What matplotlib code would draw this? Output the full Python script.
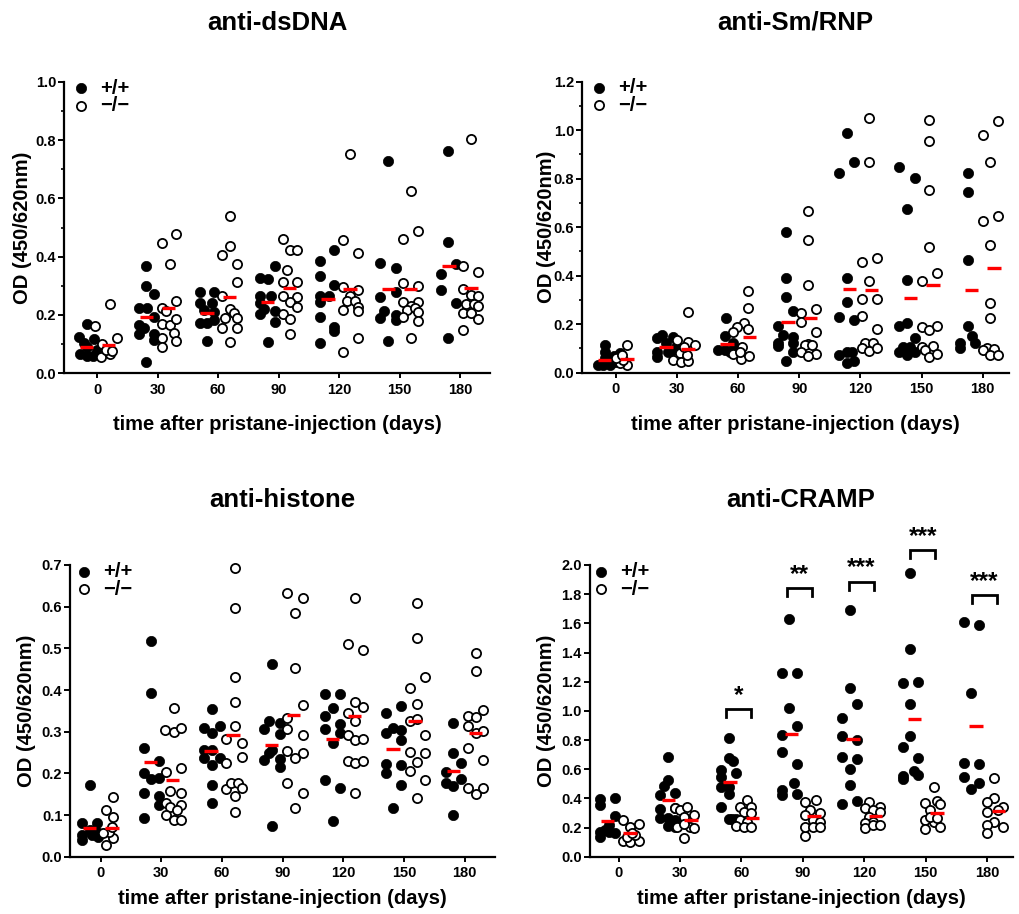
import matplotlib
matplotlib.use('Agg')
import matplotlib.pyplot as plt
from matplotlib.lines import Line2D
from matplotlib.ticker import MultipleLocator, FormatStrFormatter

# ---------------- DATA ----------------
days = [0, 30, 60, 90, 120, 150, 180]
xtick_labels = ['0', '30', '60', '90', '120', '150', '180']

# anti-dsDNA: (x in days incl. jitter, OD)
dsdna_wt = [
    [(-9.1, .126), (-5.3, .169), (-8.6, .065), (-5.3, .059), (-2, .059), (-1.7, .117), (-5, .089), (-6.6, .103), (0, .08)],
    [(24.4, .04), (24.4, .368), (24.4, .299), (28.4, .271), (20.6, .225), (24.8, .225), (20.6, .166), (23.1, .154), (20.6, .134), (28.4, .134), (28.4, .114), (28.4, .194)],
    [(50.9, .28), (57.8, .28), (50.9, .24), (57, .24), (52.8, .217), (50.9, .174), (54.5, .174), (57.8, .211), (54.5, .112), (57.8, .183)],
    [(88.3, .369), (80.6, .326), (84.5, .322), (80.6, .266), (86.2, .266), (80.6, .24), (82.6, .219), (80.6, .202), (88.3, .215), (88.3, .175), (84.5, .109)],
    [(110.6, .386), (117.5, .423), (110.6, .334), (117.5, .303), (110.6, .266), (114.8, .266), (110.6, .243), (110.6, .192), (117.5, .16), (117.5, .145), (110.6, .103)],
    [(144.2, .729), (140.4, .377), (148.2, .36), (140.4, .263), (148.2, .278), (142.3, .215), (140.4, .189), (148.2, .2), (148.2, .183), (144.2, .111)],
    [(174.2, .762), (174.2, .449), (170.5, .341), (178, .374), (170.5, .286), (178, .242), (174.2, .12)],
]
dsdna_ko = [
    [(-1.2, .163), (6.1, .237), (9.6, .122), (2.1, .055), (6.3, .065), (2.5, .1), (4.1, .08), (7.5, .075)],
    [(32.2, .448), (36, .374), (39.3, .477), (39.3, .248), (32.2, .225), (33.9, .214), (32.2, .168), (36, .166), (39.3, .185), (38, .137), (32.2, .12), (32.2, .091), (39.3, .111)],
    [(65.7, .541), (65.7, .438), (62, .406), (69.4, .374), (69.4, .314), (62, .266), (65.7, .219), (67.7, .206), (62, .154), (65.7, .109), (69.4, .189), (69.4, .154), (63.6, .189)],
    [(92, .461), (95.8, .423), (99.1, .423), (94.1, .354), (92, .314), (99.1, .314), (92, .266), (99.1, .263), (95.8, .243), (92, .202), (99.1, .226), (95.8, .185), (95.8, .135)],
    [(125.5, .751), (121.9, .457), (129.3, .411), (121.9, .297), (129.3, .286), (125.5, .265), (123.8, .248), (128, .248), (121.9, .217), (129.3, .229), (129.3, .214), (129.3, .12), (121.9, .074)],
    [(155.7, .625), (151.9, .461), (159, .488), (151.9, .309), (159, .299), (151.9, .246), (159, .246), (155.7, .231), (153.6, .217), (157.7, .223), (159, .211), (151.9, .192), (159, .181), (155.7, .12)],
    [(185.4, .802), (181.5, .369), (188.9, .349), (181.5, .289), (185.4, .269), (188.9, .266), (183.2, .237), (187, .237), (181.5, .206), (185.4, .206), (188.9, .231), (188.9, .185), (181.5, .149)],
]
dsdna_wt_mean = [.091, .193, .208, .245, .256, .289, .367]
dsdna_ko_mean = [.097, .225, .261, .294, .289, .289, .291]

# anti-Sm/RNP
smrnp_wt = [
    [(-8.7, .032), (-5.4, .114), (-5.4, .087), (-5.4, .059), (-2.9, .032), (-6.2, .032), (-0.5, .045), (2, .08), (-1, .07)],
    [(22.4, .155), (20, .142), (27.8, .148), (20, .087), (24.5, .121), (28.1, .093), (20, .066), (29.8, .114), (25.7, .087)],
    [(54, .224), (53.5, .153), (50.2, .093), (53.5, .093), (58.4, .093), (57.6, .121), (56, .087)],
    [(83.5, .581), (83.5, .389), (83.5, .313), (87.1, .256), (79.7, .194), (81.8, .155), (87.1, .148), (87.1, .121), (79.7, .121), (79.7, .11), (87.1, .087), (83.5, .048)],
    [(113.2, .987), (116.8, .87), (109.6, .822), (113.2, .389), (113.2, .29), (116.8, .217), (109.6, .231), (109.6, .073), (113.2, .084), (115.9, .084), (116.8, .049), (113.2, .038)],
    [(139.1, .847), (146.5, .804), (142.7, .674), (142.7, .382), (139.1, .194), (142.7, .203), (146.5, .144), (139.1, .087), (141.1, .107), (144.4, .107), (142.7, .073), (146.5, .087)],
    [(172.6, .825), (172.6, .746), (172.6, .465), (172.6, .194), (174.6, .151), (176.2, .121), (168.9, .121), (168.9, .103)],
]
smrnp_ko = [
    [(5.6, .114), (5.6, .032), (2, .038), (3.6, .052), (0.3, .059), (2.8, .073)],
    [(35.5, .252), (35.5, .128), (38.8, .114), (29.8, .135), (31.4, .08), (28.1, .052), (32.2, .045), (35.5, .049), (34.7, .073), (33.4, .107)],
    [(65, .337), (65, .265), (62.8, .203), (59.2, .19), (65, .179), (57.6, .169), (61.7, .107), (57.6, .077), (61.4, .056), (65.3, .069), (60.9, .087)],
    [(94.4, .667), (94.4, .547), (94.4, .362), (98.2, .263), (90.8, .245), (90.8, .208), (98.2, .166), (94.4, .118), (92.8, .114), (96.1, .114), (90.8, .087), (98.2, .076), (94.4, .069)],
    [(124.4, 1.052), (124.4, .867), (120.6, .458), (128, .474), (124.4, .379), (120.6, .304), (128, .304), (120.6, .235), (128, .18), (122.2, .124), (126.3, .124), (120.6, .1), (124.4, .089), (128, .1)],
    [(153.8, 1.042), (153.8, .955), (153.8, .753), (153.8, .52), (157.4, .41), (150.1, .379), (150.1, .19), (153.8, .176), (157.4, .194), (150.1, .107), (155.5, .11), (151.7, .093), (153.8, .063), (157.4, .077)],
    [(187.4, 1.038), (180, .98), (183.6, .87), (187.4, .646), (180, .627), (183.6, .526), (183.6, .289), (183.6, .224), (182.1, .1), (185.7, .096), (180, .093), (183.6, .073), (187.4, .073)],
]
smrnp_wt_mean = [.053, .107, .118, .21, .346, .309, .341]
smrnp_ko_mean = [.055, .099, .146, .224, .343, .362, .433]

# anti-histone
histone_wt = [
    [(-5.3, .172), (-9.1, .08), (-9.1, .04), (-9.1, .052), (-5.3, .064), (-2, .08), (-2, .06), (-4.5, .052), (-1.2, .048)],
    [(24.8, .518), (24.8, .392), (21.2, .262), (28.6, .23), (21.2, .2), (24.8, .186), (28.6, .19), (21.2, .152), (28.6, .146), (28.6, .124), (21.2, .092)],
    [(55.1, .354), (51, .31), (58.9, .314), (55.1, .298), (51, .256), (55.1, .256), (51, .238), (58.9, .238), (55.1, .22), (55.1, .172), (55.1, .128)],
    [(84.9, .462), (80.7, .306), (83.2, .326), (88.6, .32), (88.6, .294), (80.7, .232), (83.2, .248), (84.9, .256), (88.6, .234), (88.6, .216), (84.9, .074)],
    [(110.9, .39), (118.5, .39), (114.7, .358), (110.9, .338), (118.5, .318), (110.9, .306), (118.5, .298), (114.7, .274), (110.9, .184), (118.5, .164), (114.7, .086)],
    [(148.3, .362), (141, .346), (144.6, .31), (141, .298), (148.3, .304), (148.3, .28), (141, .222), (148.3, .22), (141, .202), (148.3, .172), (144.6, .118)],
    [(174.3, .32), (174.3, .248), (178, .226), (170.8, .204), (170.8, .178), (178, .186), (174.3, .17), (174.3, .1)],
]
histone_ko = [
    [(6.3, .144), (2.6, .112), (6.3, .096), (2.6, .028), (6.3, .046), (4.3, .06), (1.3, .056), (5.5, .072)],
    [(36.1, .358), (31.9, .304), (36.1, .3), (39.9, .31), (32.4, .204), (39.9, .214), (34.4, .158), (39.9, .154), (32.4, .13), (39.9, .124), (34.4, .12), (37.7, .112), (32.4, .1), (36.1, .088), (39.9, .088)],
    [(66.2, .694), (66.2, .598), (66.2, .432), (66.2, .372), (66.2, .314), (62.2, .282), (69.7, .274), (69.7, .24), (62.2, .226), (62.2, .162), (64.2, .178), (67.9, .178), (69.7, .164), (66.2, .146), (66.2, .108)],
    [(92.3, .634), (99.8, .622), (96.1, .584), (96.1, .454), (99.8, .364), (92.3, .334), (92.3, .306), (99.8, .292), (92.3, .254), (99.8, .25), (96.1, .236), (92.3, .178), (99.8, .152), (96.1, .116)],
    [(125.9, .62), (122.1, .51), (129.5, .496), (125.9, .372), (129.5, .36), (122.1, .346), (125.9, .326), (122.1, .292), (125.9, .28), (129.5, .282), (122.1, .23), (125.9, .224), (129.5, .23), (125.9, .154)],
    [(156.4, .608), (156.4, .524), (160.3, .432), (152.8, .406), (156.4, .366), (152.8, .326), (156.4, .33), (160.3, .292), (152.8, .252), (160.3, .248), (156.4, .228), (152.8, .206), (160.3, .184), (156.4, .14)],
    [(185.4, .49), (185.4, .446), (189.2, .352), (181.7, .338), (185.4, .336), (181.7, .314), (185.4, .296), (189.2, .302), (181.7, .262), (189.2, .232), (181.7, .164), (189.2, .164), (185.4, .15)],
]
histone_wt_mean = [.069, .228, .253, .269, .283, .258, .205]
histone_ko_mean = [.068, .184, .292, .341, .338, .325, .297]

# anti-CRAMP
cramp_wt = [
    [(-9, .393), (-9, .354), (-1.6, .4), (-1.6, .281), (-9, .171), (-9, .137), (-4.9, .217), (-4.9, .171), (-1.6, .16), (-6.5, .183)],
    [(24.1, .686), (24.1, .526), (22, .487), (20.4, .423), (27.4, .434), (20.4, .325), (24.1, .263), (27.4, .331), (20.4, .263), (24.1, .21), (27.4, .251), (27.4, .206)],
    [(53.8, .816), (53.8, .674), (55.9, .656), (50.2, .594), (57.5, .571), (50.2, .549), (53.8, .48), (50.2, .48), (53.8, .43), (50.2, .338), (53.8, .256), (57.5, .256), (55.4, .256)],
    [(83.4, 1.63), (79.8, 1.257), (87.2, 1.257), (83.4, 1.017), (87.2, .896), (79.8, .834), (79.8, .715), (87.2, .635), (85.5, .503), (79.8, .457), (79.8, .423), (87.2, .43)],
    [(113, 1.691), (113, 1.154), (116.5, 1.047), (109.2, .949), (109.2, .827), (116.5, .8), (109.2, .686), (116.5, .667), (113, .599), (113, .491), (116.5, .382), (109.2, .361)],
    [(142.2, 1.943), (142.2, 1.422), (138.8, 1.189), (146.3, 1.195), (142.2, 1.045), (142.2, .827), (138.8, .754), (146.3, .679), (144.2, .59), (138.8, .553), (138.8, .53), (146.3, .56)],
    [(168.6, 1.611), (176, 1.589), (172.2, 1.12), (168.6, .64), (176, .633), (168.6, .549), (176, .507), (172.2, .464)],
]
cramp_ko = [
    [(2.4, .251), (9.8, .222), (5.7, .206), (2.4, .11), (5.7, .103), (9.8, .11), (4.1, .137), (8.1, .149), (6.5, .16)],
    [(31.8, .126), (27.7, .331), (30.1, .32), (33.4, .338), (36.6, .286), (31.8, .274), (28.5, .206), (35, .206), (31.8, .224), (36.6, .194)],
    [(62.7, .389), (59.1, .343), (64.7, .343), (61.1, .309), (64.7, .297), (59.1, .251), (62.7, .24), (57.5, .21), (61.1, .206), (64.7, .206)],
    [(91.2, .377), (96.4, .389), (91.2, .142), (93.7, .32), (98.5, .302), (91.2, .286), (95, .251), (98.5, .24), (91.2, .206), (95, .206), (98.5, .201)],
    [(122.2, .377), (127.9, .343), (120.2, .331), (124.3, .32), (127.9, .309), (122.2, .274), (124.3, .24), (120.2, .229), (120.2, .2), (124.3, .217), (127.9, .217)],
    [(153.9, .48), (149.9, .37), (155.6, .384), (152, .32), (157.2, .359), (149.9, .251), (153.9, .24), (157.2, .206), (149.9, .187), (152, .274), (155.6, .263)],
    [(183.6, .537), (183.6, .4), (180, .377), (187.7, .338), (180, .309), (185.5, .32), (183.6, .24), (180, .217), (187.7, .206), (180, .16)],
]
cramp_wt_mean = [.242, .389, .51, .84, .808, .946, .893]
cramp_ko_mean = [.162, .253, .267, .276, .282, .301, .313]

# significance brackets (anti-CRAMP)
sig_days = [60, 90, 120, 150, 180]
sig_labels = ['*', '**', '***', '***', '***']
sig_heights = [1.013, 1.84, 1.886, 2.103, 1.794]

legend_labels = ['+/+', '\u2212/\u2212']
xlabel_text = 'time after pristane-injection (days)'
ylabel_text = 'OD (450/620nm)'

# ---------------- FIGURE ----------------
plt.rcParams['font.family'] = ['Liberation Sans', 'DejaVu Sans']
plt.rcParams['font.weight'] = 'bold'

W, H = 1019, 914
fig = plt.figure(figsize=(W / 100, H / 100), dpi=100)


def box(l, t, r, b):
    return [l / W, 1 - b / H, (r - l) / W, (b - t) / H]


def fx(x):
    return x / W


def fy(y):
    return 1 - y / H


panels = [
    dict(title='anti-dsDNA', rect=box(64, 81.7, 490, 373.3), xlim=(-16.5, 194.9), ylim=(0, 1.0),
         major=0.2, minor=0.1, wt=dsdna_wt, ko=dsdna_ko, wtm=dsdna_wt_mean, kom=dsdna_ko_mean,
         title_y=23, ylab_x=23, xlab_y=425, leg=(80.7, 88.3)),
    dict(title='anti-Sm/RNP', rect=box(582, 81.7, 1009.3, 372.7), xlim=(-16.6, 193), ylim=(0, 1.2),
         major=0.2, minor=0.1, wt=smrnp_wt, ko=smrnp_ko, wtm=smrnp_wt_mean, kom=smrnp_ko_mean,
         title_y=23, ylab_x=546, xlab_y=425, leg=(599.3, 87.7)),
    dict(title='anti-histone', rect=box(70, 565, 495, 856.7), xlim=(-15.2, 195), ylim=(0, 0.7),
         major=0.1, minor=None, wt=histone_wt, ko=histone_ko, wtm=histone_wt_mean, kom=histone_ko_mean,
         title_y=500, ylab_x=27, xlab_y=898, leg=(84, 571.7)),
    dict(title='anti-CRAMP', rect=box(589.5, 565, 1012.7, 856.7), xlim=(-14.2, 192.5), ylim=(0, 2.0),
         major=0.2, minor=None, wt=cramp_wt, ko=cramp_ko, wtm=cramp_wt_mean, kom=cramp_ko_mean,
         title_y=500, ylab_x=547, xlab_y=898, leg=(601, 571.7)),
]

MEAN_OFF = 5.5
MEAN_HALF = 3.3

for i, p in enumerate(panels):
    ax = fig.add_axes(p['rect'])
    for grp in p['wt']:
        xs = [pt[0] for pt in grp]
        ys = [pt[1] for pt in grp]
        ax.plot(xs, ys, 'o', ms=7.4, mfc='black', mec='black', mew=0.5, ls='none', zorder=3, clip_on=False)
    for grp in p['ko']:
        xs = [pt[0] for pt in grp]
        ys = [pt[1] for pt in grp]
        ax.plot(xs, ys, 'o', ms=6.6, mfc='white', mec='black', mew=1.3, ls='none', zorder=4, clip_on=False)
    for d, m in zip(days, p['wtm']):
        ax.hlines(m, d - MEAN_OFF - MEAN_HALF, d - MEAN_OFF + MEAN_HALF, colors='#ff0000', lw=2.4, zorder=6)
    for d, m in zip(days, p['kom']):
        ax.hlines(m, d + MEAN_OFF - MEAN_HALF, d + MEAN_OFF + MEAN_HALF, colors='#ff0000', lw=2.4, zorder=6)

    ax.set_xlim(*p['xlim'])
    ax.set_ylim(*p['ylim'])
    ax.set_xticks(days)
    ax.set_xticklabels(xtick_labels)
    ax.yaxis.set_major_locator(MultipleLocator(p['major']))
    ax.yaxis.set_major_formatter(FormatStrFormatter('%.1f'))
    if p['minor']:
        ax.yaxis.set_minor_locator(MultipleLocator(p['minor']))
    for s in ['top', 'right']:
        ax.spines[s].set_visible(False)
    for s in ['left', 'bottom']:
        ax.spines[s].set_linewidth(1.6)
    ax.tick_params(axis='both', which='major', direction='out', width=1.4, labelsize=10.5)
    ax.tick_params(axis='y', which='major', length=4.5, pad=1)
    ax.tick_params(axis='x', which='major', length=3.8, pad=3)
    ax.tick_params(axis='y', which='minor', length=2.5, width=1.2)
    for lab in ax.get_xticklabels() + ax.get_yticklabels():
        lab.set_fontweight('bold')
    ax.patch.set_alpha(0)

    l, b, w, h = p['rect']
    cx = l + w / 2
    fig.text(cx, fy(p['title_y']), p['title'], ha='center', va='center', fontsize=18.5, fontweight='bold')
    fig.text(cx, fy(p['xlab_y']), xlabel_text, ha='center', va='center', fontsize=14.5, fontweight='bold')
    fig.text(fx(p['ylab_x']), b + h / 2, ylabel_text, ha='center', va='center', rotation=90,
             fontsize=14.5, fontweight='bold')

    lx, ly = p['leg']
    fig.add_artist(Line2D([fx(lx)], [fy(ly)], transform=fig.transFigure, marker='o', ms=7.4,
                          mfc='black', mec='black', mew=0.5, ls='none'))
    fig.add_artist(Line2D([fx(lx)], [fy(ly + 17.5)], transform=fig.transFigure, marker='o', ms=6.6,
                          mfc='white', mec='black', mew=1.3, ls='none'))
    fig.text(fx(lx + 19), fy(ly), legend_labels[0], ha='left', va='center', fontsize=14.5, fontweight='bold')
    fig.text(fx(lx + 19), fy(ly + 17.5), legend_labels[1], ha='left', va='center', fontsize=14.5, fontweight='bold')

    if i == 3:
        for d, lab, hgt in zip(sig_days, sig_labels, sig_heights):
            x0, x1 = d - 7.6, d + 4.7
            ax.plot([x0, x0, x1, x1], [hgt - 0.055, hgt, hgt, hgt - 0.055], color='black', lw=2.0,
                    clip_on=False, zorder=5, solid_joinstyle='miter')
            ax.text((x0 + x1) / 2, hgt + 0.015, lab, ha='center', va='bottom', fontsize=17.5,
                    fontweight='bold', clip_on=False)

fig.savefig('out.png', dpi=100)
